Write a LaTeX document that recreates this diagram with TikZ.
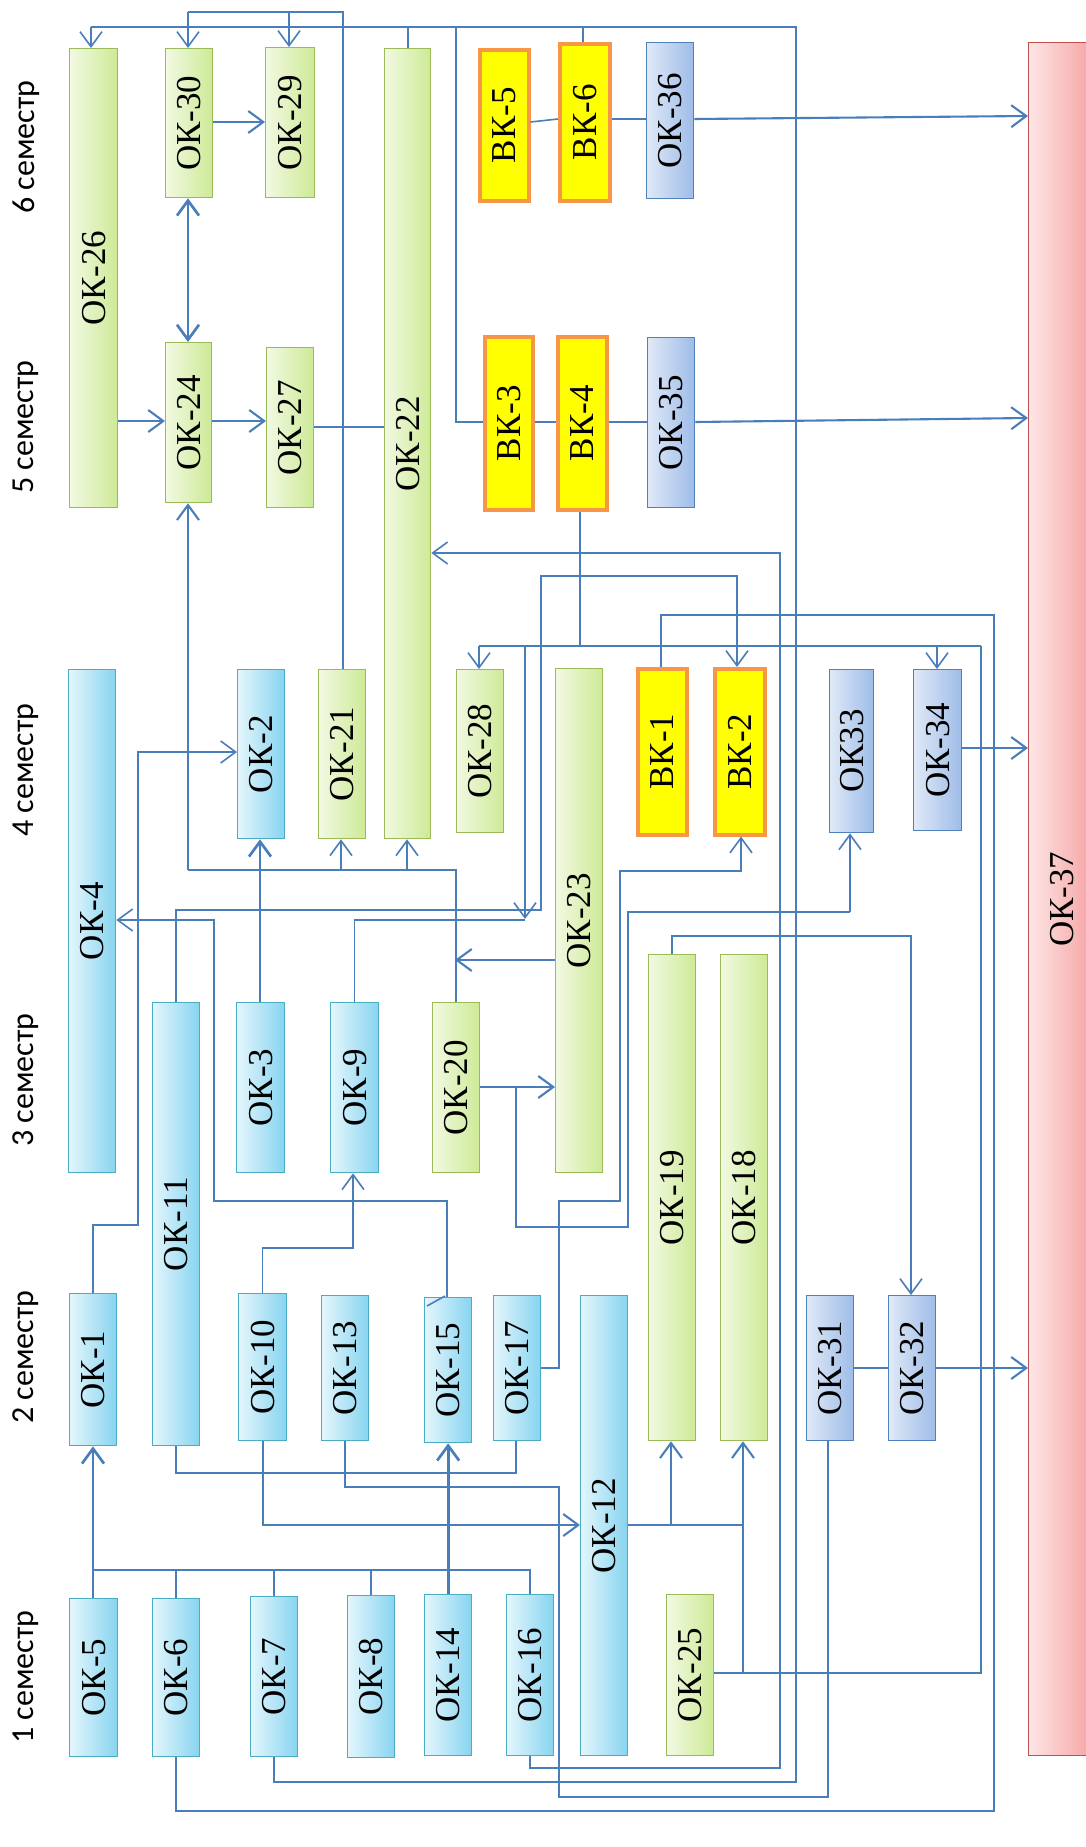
\documentclass[tikz,border=0pt]{standalone}
\usepackage{fontspec}
\setmainfont{Liberation Serif}
\newfontfamily\semfont{Carlito}
\usetikzlibrary{arrows.meta}
\definecolor{lineblue}{RGB}{74,126,187}
\definecolor{aquaB}{RGB}{75,172,198}
\definecolor{aquaL}{RGB}{228,246,252}
\definecolor{aquaR}{RGB}{135,212,240}
\definecolor{grnB}{RGB}{155,187,89}
\definecolor{grnL}{RGB}{242,249,226}
\definecolor{grnR}{RGB}{205,234,150}
\definecolor{purB}{RGB}{79,129,189}
\definecolor{purL}{RGB}{224,233,247}
\definecolor{purR}{RGB}{158,188,232}
\definecolor{redB}{RGB}{192,80,77}
\definecolor{redL}{RGB}{253,230,230}
\definecolor{redR}{RGB}{246,160,160}
\definecolor{vkB}{RGB}{247,150,70}
\definecolor{vkF}{RGB}{255,255,0}
\newcommand\mkbox[7]{\node[#1, anchor=north west, minimum width={#5pt-#3pt}, minimum height={#6pt-#4pt}] (#2) at (#3,#4) {\rotatebox{90}{#7}};}
\tikzset{
  kbox/.style={draw, inner sep=0pt, line width=1.3pt, font=\fontsize{35}{38}\selectfont},
  okA/.style={kbox, draw=aquaB, left color=aquaL, right color=aquaR},
  okG/.style={kbox, draw=grnB, left color=grnL, right color=grnR},
  okP/.style={kbox, draw=purB, left color=purL, right color=purR},
  okR/.style={kbox, draw=redB, left color=redL, right color=redR},
  vk/.style={kbox, draw=vkB, fill=vkF, line width=3.5pt},
  sem/.style={inner sep=0pt, font=\semfont\fontsize{32}{34}\selectfont},
  ln/.style={draw=lineblue, line width=1.6pt},
  lnm/.style={draw=lineblue, line width=2.1pt},
  lnt/.style={draw=lineblue, line width=2.7pt},
  arr/.style={-{Straight Barb[length=15pt,width=22pt]}},
  darr/.style={{Straight Barb[length=15pt,width=22pt]}-{Straight Barb[length=15pt,width=22pt]}}
}
\begin{document}
\begin{tikzpicture}[x=1pt,y=-1pt]
\useasboundingbox (0,0) rectangle (1085,1847);
\fill[white] (0,0) rectangle (1085,1847);
% semester labels
\node[sem] (s6) at (26,147) {\rotatebox{90}{6 семестр}};
\node[sem] (s5) at (26,427) {\rotatebox{90}{5 семестр}};
\node[sem] (s4) at (26,770) {\rotatebox{90}{4 семестр}};
\node[sem] (s3) at (26,1080) {\rotatebox{90}{3 семестр}};
\node[sem] (s2) at (26,1357) {\rotatebox{90}{2 семестр}};
\node[sem] (s1) at (26,1677) {\rotatebox{90}{1 семестр}};
% boxes
\mkbox{okG}{ok26}{69}{48}{117}{507}{ОК-26}
\mkbox{okA}{ok4}{68}{669}{115}{1172}{ОК-4}
\mkbox{okA}{ok1}{69}{1293}{116}{1445}{ОК-1}
\mkbox{okA}{ok5}{69}{1598}{117}{1756}{ОК-5}
\mkbox{okG}{ok30}{165}{48}{212}{197}{ОК-30}
\mkbox{okG}{ok24}{165}{342}{211}{502}{ОК-24}
\mkbox{okA}{ok11}{152}{1002}{199}{1445}{ОК-11}
\mkbox{okA}{ok6}{152}{1598}{199}{1756}{ОК-6}
\mkbox{okG}{ok29}{265}{47}{314}{197}{ОК-29}
\mkbox{okG}{ok27}{266}{347}{313}{507}{ОК-27}
\mkbox{okA}{ok2}{237}{669}{284}{838}{ОК-2}
\mkbox{okA}{ok3}{236}{1002}{284}{1172}{ОК-3}
\mkbox{okA}{ok10}{238}{1293}{286}{1440}{ОК-10}
\mkbox{okA}{ok7}{250}{1596}{297}{1756}{ОК-7}
\mkbox{okG}{ok21}{318}{669}{365}{838}{ОК-21}
\mkbox{okA}{ok9}{330}{1002}{378}{1172}{ОК-9}
\mkbox{okA}{ok13}{321}{1295}{368}{1440}{ОК-13}
\mkbox{okA}{ok8}{347}{1595}{394}{1757}{ОК-8}
\mkbox{okG}{ok22}{384}{48}{430}{838}{ОК-22}
\mkbox{okG}{ok20}{432}{1002}{479}{1172}{ОК-20}
\mkbox{okA}{ok15}{424}{1297}{471}{1442}{ОК-15}
\mkbox{okA}{ok14}{424}{1594}{471}{1755}{ОК-14}
\mkbox{okG}{ok28}{456}{669}{503}{832}{ОК-28}
\mkbox{vk}{vk5}{478}{48}{527}{199}{ВК-5}
\mkbox{vk}{vk3}{483}{335}{531}{508}{ВК-3}
\mkbox{okA}{ok17}{493}{1295}{540}{1440}{ОК-17}
\mkbox{okA}{ok16}{506}{1594}{553}{1755}{ОК-16}
\mkbox{vk}{vk6}{558}{42}{608}{199}{ВК-6}
\mkbox{vk}{vk4}{556}{335}{605}{508}{ВК-4}
\mkbox{okG}{ok23}{555}{668}{602}{1172}{ОК-23}
\mkbox{okA}{ok12}{580}{1295}{627}{1755}{ОК-12}
\mkbox{vk}{vk1}{636}{667}{685}{833}{ВК-1}
\mkbox{okG}{ok19}{648}{954}{695}{1440}{ОК-19}
\mkbox{okG}{ok25}{666}{1594}{713}{1755}{ОК-25}
\mkbox{okP}{ok36}{646}{42}{693}{198}{ОК-36}
\mkbox{okP}{ok35}{647}{337}{694}{507}{ОК-35}
\mkbox{vk}{vk2}{713}{667}{763}{833}{ВК-2}
\mkbox{okG}{ok18}{720}{954}{767}{1440}{ОК-18}
\mkbox{okP}{ok33}{829}{669}{873}{832}{ОК33}
\mkbox{okP}{ok31}{806}{1295}{853}{1440}{ОК-31}
\mkbox{okP}{ok34}{913}{669}{961}{830}{ОК-34}
\mkbox{okP}{ok32}{888}{1295}{935}{1440}{ОК-32}
\mkbox{okR}{ok37}{1028}{42}{1095}{1755}{ОК-37}
% top network (ОК-7)
\draw[ln] (ok7.south) |- (796,1782) |- (91,27);
\draw[ln,arr] (91,27) -- (ok26.north -| 91,0);
\draw[ln] (408,27) -- (ok22.north -| 408,0);
\draw[ln] (583,27) -- (vk6.north -| 583,0);
\draw[ln] (456,27) |- (vk3.west |- 0,422);
% ОК-21 network
\draw[ln] (ok21.north -| 343,0) |- (188,12);
\draw[ln,arr] (188,12) -- (ok30.north -| 188,0);
\draw[ln,arr] (289,12) -- (ok29.north -| 289,0);
% semester 5-6 arrows
\draw[lnm,arr] (ok30.east |- 0,122) -- (ok29.west |- 0,122);
\draw[lnt,darr] (ok30.south -| 188,0) -- (ok24.north -| 188,0);
\draw[lnm,arr] (ok26.east |- 0,421) -- (ok24.west |- 0,421);
\draw[lnm,arr] (ok24.east |- 0,421) -- (ok27.west |- 0,421);
\draw[ln] (ok27.east |- 0,427) -- (ok22.west |- 0,427);
% ВК chains
\draw[ln] (vk5.east |- 0,122) -- (vk6.west |- 0,119);
\draw[ln] (vk6.east |- 0,119) -- (ok36.west |- 0,119);
\draw[lnm,arr] (ok36.east |- 0,119) -- (ok37.west |- 0,116);
\draw[ln] (vk3.east |- 0,422) -- (vk4.west |- 0,422);
\draw[ln] (vk4.east |- 0,422) -- (ok35.west |- 0,422);
\draw[lnm,arr] (ok35.east |- 0,422) -- (ok37.west |- 0,418);
% ОК-20 network
\draw[ln] (ok20.north) |- (188,870);
\draw[lnm,arr] (188,870) -- (ok24.south -| 188,0);
\draw[ln,arr] (341,870) -- (ok21.south -| 341,0);
\draw[ln,arr] (407,870) -- (ok22.south -| 407,0);
\draw[lnt,arr] (ok3.north -| 260,0) -- (ok2.south -| 260,0);
\draw[lnm,arr] (ok23.west |- 0,960) -- (455,960);
\draw[lnm,arr] (ok20.east |- 0,1087) -- (ok23.west |- 0,1087);
\draw[ln] (516,1087) |- (628,1227) |- (850,912);
\draw[ln,arr] (850,912) -- (ok33.south -| 850,0);
% ОК-17 -> ВК-2
\draw[ln,arr] (ok17.east |- 0,1368) -| (559,1201) -| (620,871) -| (vk2.south -| 741,0);
% ОК-11 -> ВК-2
\draw[ln,arr] (ok11.north) |- (541,910) |- (737,576) -- (vk2.north -| 737,0);
% ОК-9
\draw[ln] (ok9.north) |- (525,920);
% ВК-4 network
\coordinate (j9) at (525,919);
\draw[ln] (vk4.south -| 580,0) -- (580,646);
\draw[ln] (479,646) -- (981,646);
\draw[ln,arr] (479,646) -- (ok28.north -| 479,0);
\draw[ln,arr] (937,646) -- (ok34.north -| 937,0);
\draw[ln,arr] (525,646) -- (j9);
\draw[ln] (ok25.east |- 0,1673) -- (981,1673) -- (981,646);
\draw[ln] (743,1673) -- (743,1525);
% ОК-12
\draw[lnm] (ok12.east |- 0,1525) -- (743,1525);
\draw[lnm,arr] (743,1525) -- (ok18.south -| 743,0);
\draw[lnm,arr] (671,1525) -- (ok19.south -| 671,0);
\draw[lnm,arr] (ok10.south) |- (ok12.west |- 0,1525);
% ОК-10 -> ОК-9
\draw[ln,arr] (ok10.north) |- (353,1248) -- (ok9.south -| 353,0);
% ОК-1 -> ОК-2
\draw[ln,arr] (ok1.north) |- (138,1225) |- (ok2.west |- 0,752);
% ОК-15 -> ОК-4
\draw[ln,arr] (ok15.north -| 447,0) |- (214,1201) |- (ok4.east |- 0,920);
\draw[ln] (427,1306) -- (445,1296);
% semester 1
\draw[lnt,arr] (ok5.north -| 93,0) -- (ok1.south -| 93,0);
\draw[ln] (ok16.north) |- (93,1570);
\draw[ln] (ok6.north) -- (ok6.north |- 0,1570);
\draw[ln] (ok7.north) -- (ok7.north |- 0,1570);
\draw[ln] (ok8.north) -- (ok8.north |- 0,1570);
\draw[lnt,arr] (ok14.north) -- (ok15.south);
% bottom routes
\draw[ln] (ok11.south) |- (516,1473) -- (ok17.south -| 516,0);
\draw[ln] (ok13.south) |- (559,1487) |- (828,1797) -- (ok31.south -| 828,0);
\draw[ln] (ok6.south) |- (994,1811) |- (661,615) -- (vk1.north -| 661,0);
\draw[ln,arr] (ok16.south) |- (780,1768) |- (ok22.east |- 0,553);
\draw[ln,arr] (ok19.north) |- (911,936) -- (ok32.north -| 911,0);
\draw[ln] (ok31.east |- 0,1368) -- (ok32.west |- 0,1368);
\draw[lnm,arr] (ok32.east |- 0,1368) -- (ok37.west |- 0,1368);
\draw[lnm,arr] (ok34.east |- 0,748) -- (ok37.west |- 0,748);
\end{tikzpicture}
\end{document}
